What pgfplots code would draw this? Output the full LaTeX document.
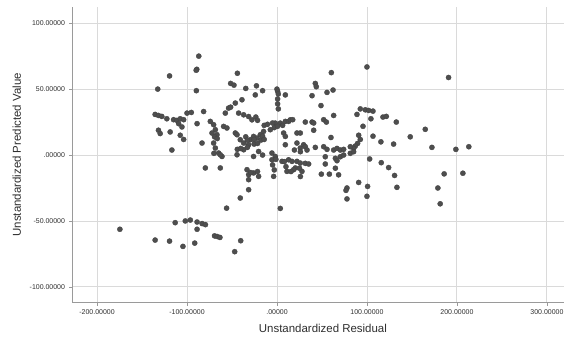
\documentclass[border=0pt]{standalone}
\usepackage{pgfplots}
\pgfplotsset{compat=1.18}
\usepackage{fontspec}
\setmainfont{Liberation Sans}
\definecolor{dotc}{HTML}{4E4E4E}
\definecolor{gridc}{HTML}{DADADA}
\definecolor{axc}{HTML}{9A9A9A}
\definecolor{txt}{HTML}{2E2E2E}
\begin{document}
\begin{tikzpicture}[x=1bp,y=1bp]
\useasboundingbox (0,0) rectangle (564,338);
\begin{axis}[
  at={(72bp,35.3bp)}, anchor=south west,
  scale only axis, width=492bp, height=296bp,
  xmin=-227.8, xmax=319, ymin=-112, ymax=112.5,
  axis x line*=bottom, axis y line*=left,
  axis line style={draw=axc, line width=0.8pt, -},
  grid=major, major grid style={draw=gridc, line width=0.9pt},
  xtick={-200,-100,0,100,200,300},
  xticklabels={-200.00000,-100.00000,.00000,100.00000,200.00000,300.00000},
  ytick={-100,-50,0,50,100},
  yticklabels={-100.00000,-50.00000,.00000,50.00000,100.00000},
  tick style={draw=axc, line width=0.6pt},
  major tick length=3bp, tick align=outside,
  ticklabel style={font=\fontsize{7}{8}\selectfont, text=txt},
  xticklabel style={yshift=-0.5bp},
  yticklabel style={xshift=-0.5bp},
  xlabel={Unstandardized Residual},
  ylabel={Unstandardized Predicted Value},
  label style={font=\fontsize{11.5}{13}\selectfont, text=txt},
  xlabel style={at={(axis description cs:0.51,-0.0865)}, anchor=center},
  ylabel style={at={(axis description cs:-0.112,0.5)}, anchor=center},
  clip=false,
]
\addplot[only marks, mark=*, mark size=2.6bp, mark options={fill=dotc, draw=dotc!85!black, line width=0.3pt}] coordinates {
(-86.9,75) (-89.1,65) (-89.8,64.3) (-119.4,60) (-44,62) (-132.5,50) (-89.6,48.8)
(-51.5,54.3) (-47.8,53) (-34.7,50.5) (-22.8,52.5) (-16,48.8)
(0,50) (0.7,48.3) (1.5,46.3) (0.7,42.5) (0.7,38.8) (1.5,35)
(-135.4,30.8) (-131.7,30) (-128,29.3) (-122.4,27.5)
(-114.9,26.8) (-111.2,26.3) (-107.5,27.5) (-103.7,26.8)
(-109.3,23.8) (-105.6,21.3) (-131.7,18.8) (-129.8,16.3) (-118.7,17.5)
(-107.5,15) (-103.7,11.8) (-116.8,3.8) (-100,31.8) (-95.2,32.3) (-88.8,23.8)
(-24.1,45.6) (9.3,45.6)
(-38.9,41.9) (-46.3,39.4) (-53.8,35.6) (-57.4,31.8)
(-42.6,31.8) (-37,30.5) (-31.5,29.2) (-27.8,26.7)
(-81.5,33)
(-74.1,25.5) (-70.4,23) (-68.5,19.2) (-72.2,16.7) (-66.7,15.4)
(-59.3,21.7) (-55.6,20.5)
(-46.3,16.7) (-44.4,15.4) (-40.8,11.6) (-37,9.1) (-31.5,7.8) (-29.6,11.6) (-26,14.1) (-22.2,12.9) (-18.5,15.4) (-14.9,17.9)
(-70.4,9.1) (-68.5,5.3) (-64.8,1.5) (-61.1,-1.1)
(-83.3,9.1)
(-79.6,-9.8) (-63,-9.8)
(-26,-1.1) (-20.4,2.7)
(-7.4,19.2) (-1.9,24.2) (3.7,24.2) (9.3,25.5) (12.9,25.5) (14.8,26.7)
(7.4,16.7) (9.3,14.1) (9.3,7.8)
(22.2,16.7) (25.9,16.7) (22.2,9.1) (25.9,5.3) (29.6,7.8)
(-5.6,1.5) (-1.9,-1.1) (-5.6,-3.6) (-3.7,-16.2) (5.6,-4.8) (12.9,-3.6) (16.7,-4.8) (22.2,-4.8) (25.9,-6.1) (27.8,-12.4) (20.4,-9.8) (11.1,-12.4) (18.5,-11.1)
(-33.3,-11.1) (-31.5,-14.9) (-31.5,-18.7) (-31.5,-26.3) (-40.8,-32.6) (-26,-13.6) (-20.4,-16.2)
(-63,0.2) (-44.4,0.2) (-37,4)
(-69.4,13.8) (-66.4,12.5) (-70.1,1.3) (-51.5,36.3) (-23.5,28.8) (-21.6,26.3)
(-34.7,13.8) (-32.9,11.3) (-25.4,11.8) (-17.9,11.3) (-16,14.3)
(-44.1,4.3) (-40.3,5) (-32.9,5.8) (-25.4,8.3) (-21.6,8.8) (-14.2,11.8)
(-16,0) (-29.1,-13.3) (-21.6,-12.5)
(-14.2,22.5) (-10.5,23.3) (-4.9,24.3) (17.5,26.8) (6.3,22.5) (-3,20.8) (0.7,21.8)
(-1.2,-3.3) (-4.9,-7.5) (-3,-11.3) (8.2,-5) (10,-8.8) (15.6,-12.5) (25,-10)
(19.4,3.8) (26,-16.3) (26,2.5)
(-56,-40.3) (3.7,-40.5)
(-174.6,-56.3)
(-113.1,-51.3) (-101.9,-50) (-96.3,-49.3) (-88.8,-50.8) (-83.2,-52) (-79.5,-52.8)
(-88.8,-56.3)
(-135.4,-64.5) (-119.4,-65.3) (-104.5,-69.3) (-91.4,-66.8)
(-69.4,-61.3) (-66.4,-61.8) (-63.4,-62.5) (-40.3,-65) (-47,-73.3)
(100,66.8) (190.7,58.8) (60.4,62.5) (42.6,54.3) (43.7,51.8) (39,45)
(55.6,47.5) (62.3,49.3) (48.9,37.5)
(31.5,25) (39,25) (40.8,24.3) (51.9,26.8) (54.9,25) (40.8,18.8) (63,30) (60,13.3)
(88.9,30.8) (92.6,35) (98.2,34.3) (101.9,33.8) (106.7,33.3) (104.4,27.5) (95.6,21.8)
(90.8,15) (92.6,11.8) (89.6,8.8) (87,6.8) (85.2,5) (81.5,6.3)
(117.8,28.8) (121.5,29.3) (132.6,25) (164.8,19.5) (148.1,13.8) (115.5,10) (129.6,8.3)
(106.7,14.3) (172.2,5.8) (198.8,4.3) (213.2,6.3)
(103,-3) (115.9,-5.8) (124.1,-9.5) (130.7,-15.5) (133.3,-24.5)
(185.8,-14.3) (206.6,-13.8) (178.8,-25) (181.4,-37)
(90.8,-20.8) (100.7,-23.8) (100,-31.3) (77.8,-25) (76.7,-26.8) (77.8,-33.3)
(49.3,-14.5) (58.2,-14.5) (68.5,-15) (64.9,-10)
(31.5,-6.3) (35.2,-6.8)
(51.9,6.3) (55.6,4.3) (63,3.8) (66.7,5) (70.4,3.8) (74.1,4.3) (81.5,1.3) (85.2,2.5)
(64.9,-2.5) (66.7,-4.3) (53.7,-6.8) (70.4,-1.3) (74.1,0) (53.7,-1.3)
(42.6,5.8) (31.5,6.3) (33.4,3.8)
};
\end{axis}
\end{tikzpicture}
\end{document}
